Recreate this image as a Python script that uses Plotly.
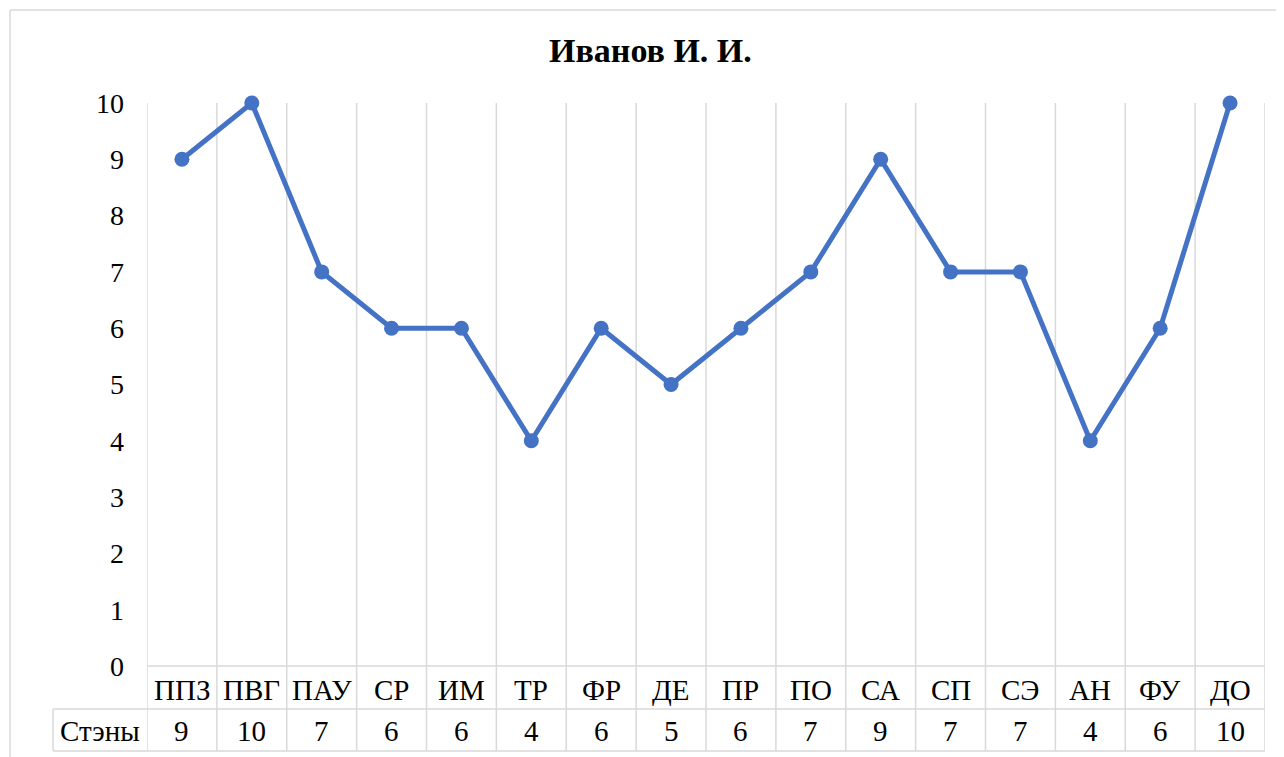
import plotly.graph_objects as go

categories = ["ППЗ", "ПВГ", "ПАУ", "СР", "ИМ", "ТР", "ФР", "ДЕ", "ПР", "ПО", "СА", "СП", "СЭ", "АН", "ФУ", "ДО"]
stens = [9, 10, 7, 6, 6, 4, 6, 5, 6, 7, 9, 7, 7, 4, 6, 10]
row_label = "Стэны"
title_text = "Иванов И. И."
y_ticks = list(range(0, 11))

W, H = 1284, 757
OFF = 8  # page body margin
FONT = "Liberation Serif, Times New Roman, serif"
GRID = "#d9d9d9"
BLUE = "#4472C4"

def px_x(p):
    return (p - OFF) / W

def px_y(p):
    return (H - (p - OFF)) / H

plot_left, plot_right = 147, 1265
plot_top, plot_bottom = 103, 666
row1_bottom = 709
row2_bottom = 751
table_left = 53

fig = go.Figure()
fig.add_trace(go.Scatter(
    x=list(range(len(categories))), y=stens, mode="lines+markers",
    line=dict(color=BLUE, width=5),
    marker=dict(color=BLUE, size=15),
    cliponaxis=False, showlegend=False, hoverinfo="skip",
))

n = len(categories)
shapes = []
for i in range(n + 1):
    shapes.append(dict(type="line", xref="x", yref="paper", x0=i - 0.5, x1=i - 0.5,
                       y0=px_y(row2_bottom), y1=px_y(plot_top), line=dict(color=GRID, width=1.5), layer="below"))
for yy, xl in [(plot_bottom, plot_left), (row1_bottom, table_left), (row2_bottom, table_left)]:
    shapes.append(dict(type="line", xref="paper", yref="paper", x0=px_x(xl), x1=px_x(plot_right),
                       y0=px_y(yy), y1=px_y(yy), line=dict(color=GRID, width=1.5), layer="below"))
shapes.append(dict(type="line", xref="paper", yref="paper", x0=px_x(table_left), x1=px_x(table_left),
                   y0=px_y(row2_bottom), y1=px_y(row1_bottom), line=dict(color=GRID, width=1.5)))
shapes.append(dict(type="line", xref="paper", yref="paper", x0=px_x(10), x1=px_x(10),
                   y0=0, y1=px_y(10), line=dict(color=GRID, width=1.5)))
shapes.append(dict(type="line", xref="paper", yref="paper", x0=px_x(10), x1=1,
                   y0=px_y(10), y1=px_y(10), line=dict(color=GRID, width=1.5)))

TF = dict(family=FONT, size=29, color="#000")
annotations = []
for i, (c, v) in enumerate(zip(categories, stens)):
    annotations.append(dict(x=i, y=px_y(690), xref="x", yref="paper",
                            text=c, showarrow=False, font=TF,
                            xanchor="center", yanchor="middle"))
    annotations.append(dict(x=i, y=px_y(731), xref="x", yref="paper",
                            text=str(v), showarrow=False, font=TF,
                            xanchor="center", yanchor="middle"))
annotations.append(dict(x=px_x((table_left + plot_left) / 2), y=px_y(731),
                        xref="paper", yref="paper", text=row_label, showarrow=False,
                        font=TF, xanchor="center", yanchor="middle"))
annotations.append(dict(x=px_x(650), y=px_y(51), xref="paper", yref="paper",
                        text="<b>" + title_text + "</b>", showarrow=False,
                        font=dict(family=FONT, size=34, color="#000"), xanchor="center", yanchor="middle"))

fig.update_layout(
    width=W, height=H, margin=dict(l=0, r=0, t=0, b=0, autoexpand=False),
    paper_bgcolor="white", plot_bgcolor="white",
    shapes=shapes, annotations=annotations,
    xaxis=dict(domain=[px_x(plot_left), px_x(plot_right)], range=[-0.5, n - 0.5], automargin=False,
               showgrid=False, zeroline=False, showticklabels=False, showline=False, fixedrange=True),
    yaxis=dict(domain=[px_y(plot_bottom), px_y(plot_top)], range=[0, 10], tickvals=y_ticks, automargin=False,
               showgrid=False, zeroline=False, showline=False, ticks="",
               ticklabelstandoff=22, tickfont=dict(family=FONT, size=28, color="#000")),
)

fig.write_html("out.html")
